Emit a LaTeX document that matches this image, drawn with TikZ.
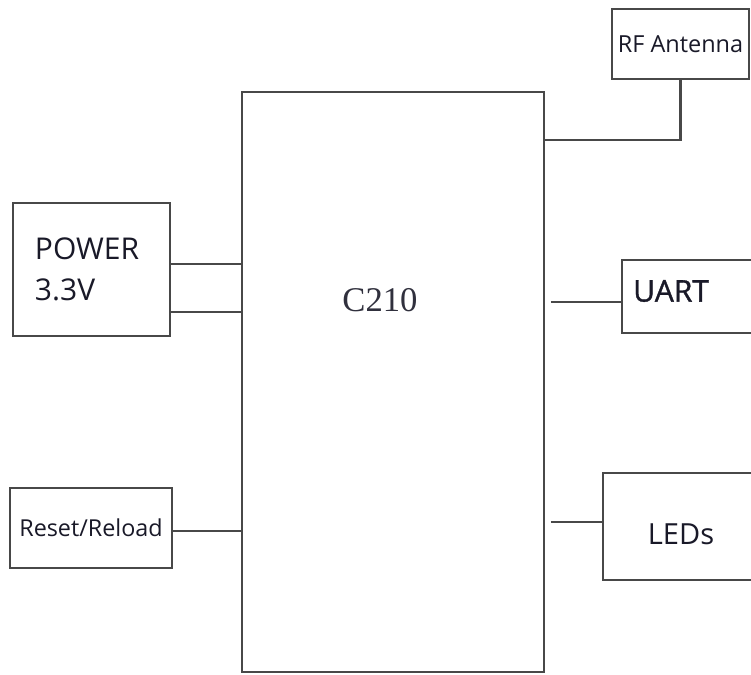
\documentclass[tikz,border=0pt]{standalone}
\usepackage{fontspec}
\newfontfamily\blockfont{Open Sans}
\newfontfamily\blockfontsb[FakeBold=1.2]{Open Sans}
\newfontfamily\chipfont{Liberation Serif}
\definecolor{wiregray}{RGB}{72,72,72}
\definecolor{inkdark}{RGB}{25,25,40}

\begin{document}
\begin{tikzpicture}[x=0.75pt, y=-0.75pt,
    blk/.style={draw=wiregray, line width=2.2pt, fill=white, inner sep=0pt, text=inkdark},
    wire/.style={draw=wiregray, line width=2.2pt}]
\useasboundingbox (0,0) rectangle (751,675);
\clip (0,0) rectangle (751,675);
% main module
\node[blk, minimum width=226.5pt, minimum height=435pt] (chip) at (393,382) {};
\node[text=inkdark!90, font=\chipfont\fontsize{26}{30}\selectfont] (chiplbl) at (380,300) {C210};
% left side blocks
\node[blk, minimum width=117.75pt, minimum height=99.75pt, text width=84.75pt, inner xsep=16.5pt, align=left,
      font=\blockfont\fontsize{22.5}{30.75}\selectfont] (power) at (91.5,269.5) {POWER\\3.3V};
\node[blk, minimum width=121.5pt, minimum height=60pt, font=\blockfont\fontsize{17.5}{20}\selectfont] (reset) at (91,528) {Reset/Reload};
% right side blocks
\node[blk, minimum width=102.75pt, minimum height=52.5pt, font=\blockfont\fontsize{17.6}{20}\selectfont] (rf) at (680.5,44) {RF Antenna};
\node[blk, minimum width=133.5pt, minimum height=54.75pt] (uart) at (711,296.5) {};
\node[text=inkdark, anchor=west, inner sep=0pt, font=\blockfontsb\fontsize{22.5}{26}\selectfont] (uartlbl) at (633,291) {UART};
\node[blk, minimum width=147.75pt, minimum height=80.25pt] (leds) at (701.5,526.5) {};
\node[text=inkdark, inner sep=0pt, font=\blockfont\fontsize{21.8}{26}\selectfont] (ledslbl) at (681,534) {LEDs};
% connections
\draw[wire] (power.east |- 0,264) -- (chip.west |- 0,264);
\draw[wire] (power.east |- 0,312) -- (chip.west |- 0,312);
\draw[wire] (reset.east |- 0,531) -- (chip.west |- 0,531);
\draw[wire] (rf.south) |- (chip.east |- 0,140);
\draw[wire, shorten <=4pt] (chip.east |- 0,302) -- (uart.west |- 0,302);
\draw[wire, shorten <=4pt] (chip.east |- 0,522) -- (leds.west |- 0,522);
\end{tikzpicture}
\end{document}
